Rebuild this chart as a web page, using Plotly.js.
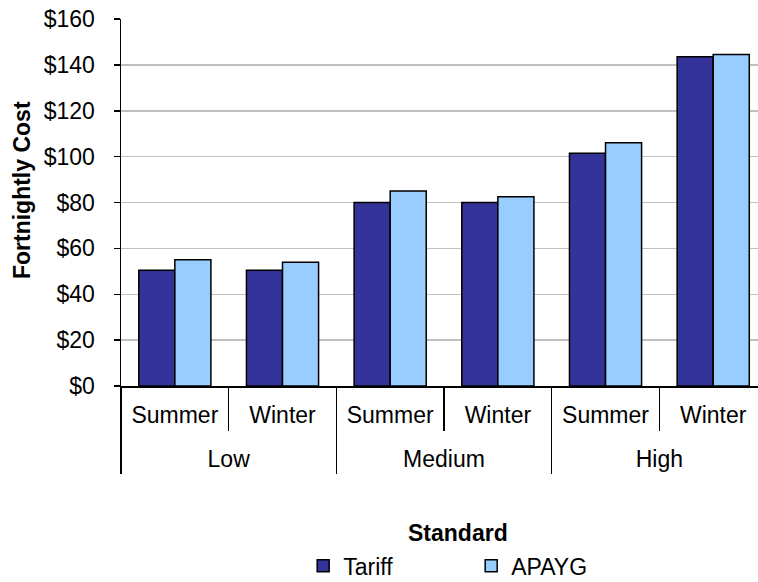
<!DOCTYPE html>
<html>
<head>
<meta charset="utf-8">
<script src="https://cdn.plot.ly/plotly-3.0.1.min.js"></script>
<style>html,body{margin:0;padding:0;background:#fff;}#chart{width:758px;height:582px;}</style>
</head>
<body>
<div id="chart"></div>
<script>
var groups = ["Low", "Low", "Medium", "Medium", "High", "High"];
var seasons = ["Summer", "Winter", "Summer", "Winter", "Summer", "Winter"];
var tariff = [50.5, 50.5, 80, 80, 101.5, 143.5];
var apayg = [55, 54, 85, 82.5, 106, 144.5];
var yTicks = [0, 20, 40, 60, 80, 100, 120, 140, 160];
var yTickText = yTicks.map(function (v) { return "$" + v; });

// category positions derived from the data arrays
var idx = seasons.map(function (s, i) { return i; });
var catBounds = idx.map(function (i) { return i - 0.5; }).concat([idx.length - 0.5]);
var groupNames = [], groupCenters = [], groupBounds = [];
groups.forEach(function (g, i) {
  if (i === 0 || g !== groups[i - 1]) { groupNames.push(g); groupBounds.push(i - 0.5); }
});
groupBounds.push(groups.length - 0.5);
groupNames.forEach(function (g, k) { groupCenters.push((groupBounds[k] + groupBounds[k + 1]) / 2); });

var FONT = "Liberation Sans, Arial, sans-serif";
var traces = [
  {type: "bar", name: "Tariff", x: idx, y: tariff,
   marker: {color: "#333399", line: {color: "#000", width: 1.5}}},
  {type: "bar", name: "APAYG", x: idx, y: apayg,
   marker: {color: "#99ccff", line: {color: "#000", width: 1.5}}},
  // carrier for the outer (group) category axis; draws nothing
  {type: "scatter", mode: "markers", x: groupCenters, y: groupCenters.map(function () { return null; }),
   xaxis: "x2", yaxis: "y", showlegend: false, hoverinfo: "skip"}
];
var xRange = [-0.5, 5.416];
var layout = {
  width: 758, height: 582,
  margin: {l: 121, r: 0, t: 19, b: 196, autoexpand: false},
  paper_bgcolor: "#fff", plot_bgcolor: "#fff",
  font: {family: FONT, size: 23, color: "#000"},
  barmode: "group", bargap: 0.33, bargroupgap: 0,
  showlegend: true,
  legend: {orientation: "h", x: 0.286, xanchor: "left", y: -0.49, yanchor: "middle",
           entrywidth: 123, entrywidthmode: "pixels", itemwidth: 30,
           font: {size: 23}},
  xaxis: {type: "linear", range: xRange,
          tickvals: idx, ticktext: seasons,
          showline: true, linecolor: "#000", linewidth: 1.5,
          ticks: "", ticklabelstandoff: 8,
          minor: {tickvals: catBounds, ticks: "outside", ticklen: 43, tickcolor: "#000", tickwidth: 1.5, showgrid: false},
          showgrid: false, zeroline: false},
  xaxis2: {type: "linear", overlaying: "x", anchor: "y", side: "bottom",
           range: xRange,
           tickvals: groupCenters, ticktext: groupNames,
           showline: false, ticks: "", ticklabelstandoff: 57,
           minor: {tickvals: groupBounds, ticks: "outside", ticklen: 87, tickcolor: "#000", tickwidth: 1.5, showgrid: false},
           showgrid: false, zeroline: false},
  yaxis: {range: [0, 160], tickvals: yTicks, ticktext: yTickText,
          showline: true, linecolor: "#000", linewidth: 1.5,
          ticks: "outside", ticklen: 6, tickcolor: "#000", tickwidth: 1.5,
          ticklabelstandoff: 14,
          showgrid: true, gridcolor: "#c0c0c0", gridwidth: 1.5, zeroline: false},
  annotations: [
    {text: "<b>Fortnightly Cost</b>", xref: "paper", yref: "paper", x: -0.1554, y: 0.534,
     xanchor: "center", yanchor: "middle", textangle: -90, showarrow: false, font: {size: 23}},
    {text: "<b>Standard</b>", xref: "paper", yref: "paper", x: 0.529, y: -0.4005,
     xanchor: "center", yanchor: "middle", showarrow: false, font: {size: 23}}
  ]
};
Plotly.newPlot("chart", traces, layout, {displayModeBar: false, staticPlot: true});
</script>
</body>
</html>
